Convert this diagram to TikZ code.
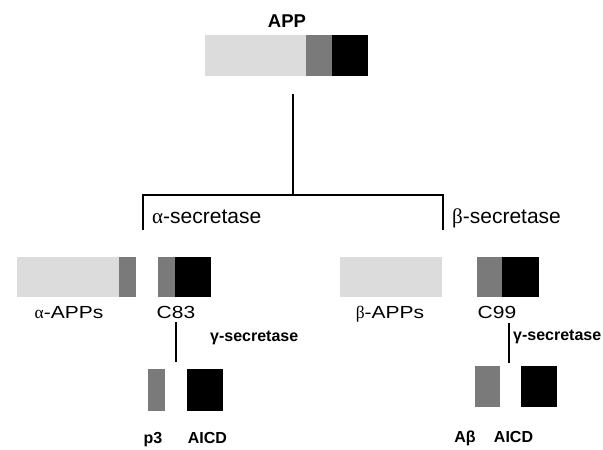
\documentclass[tikz,border=0pt]{standalone}
\usepackage{fontspec}
\setmainfont{Liberation Sans}
\newfontfamily\widefont[FakeStretch=1.2]{Liberation Sans}
\newfontfamily\greekfont{Liberation Serif}
\usepackage{tikz}
\usetikzlibrary{positioning}
\usepackage{xcolor}
\definecolor{lightseg}{HTML}{DCDCDC}
\definecolor{midseg}{HTML}{7A7A7A}

\tikzset{
    seg/.style={rectangle, inner sep=0pt, outer sep=0pt, minimum height=41pt},
    ecto/.style={seg, fill=lightseg},
    memb/.style={seg, fill=midseg},
    cyto/.style={seg, fill=black},
    wlabel/.style={inner sep=0pt, anchor=base, font=\widefont\fontsize{17.5}{17.5}\selectfont},
    blabel/.style={inner sep=0pt, anchor=base, font=\bfseries\fontsize{16}{16}\selectfont},
    enzyme/.style={inner sep=0pt, anchor=base west, font=\fontsize{21}{21}\selectfont},
    cut/.style={line width=1.8pt}
}

\begin{document}
\begin{tikzpicture}[x=1pt, y=-1pt]
        \useasboundingbox (0,0) rectangle (603,450);

        % Full length APP
        \node[ecto, minimum width=101pt] (app1) at (255.5,55.5) {};
        \node[memb, minimum width=26pt, right=0pt of app1] (app2) {};
        \node[cyto, minimum width=36pt, right=0pt of app2] (app3) {};
        \node[inner sep=0pt, anchor=base, font=\bfseries\fontsize{18.5}{18.5}\selectfont] (applbl) at (287,27) {APP};

        % Branching
        \coordinate (fork) at (293,195);
        \coordinate (forkL) at (143,195);
        \coordinate (forkR) at (443,195);
        \coordinate (endL) at (143,230);
        \coordinate (endR) at (443,230);
        \draw[cut, shorten <=18pt] (fork |- app1.south) -- (fork);
        \draw[cut] (endL) -- (forkL) -- (forkR) -- (endR);
        \node[enzyme] (alphasec) at (152,223) {{\greekfont α}-secretase};
        \node[enzyme] (betasec) at (452,223) {{\greekfont β}-secretase};

        % alpha cleavage products
        \node[ecto, minimum width=102pt, minimum height=40pt] (aapps1) at (68,277) {};
        \node[memb, minimum width=17pt, minimum height=40pt, right=0pt of aapps1] (aapps2) {};
        \node[memb, minimum width=17pt, minimum height=40pt] (c83a) at (166.5,277) {};
        \node[cyto, minimum width=36pt, minimum height=40pt, right=0pt of c83a] (c83b) {};
        \node[wlabel] (aappslbl) at (69,318.5) {{\greekfont α}-APPs};
        \node[wlabel] (c83lbl) at (176,318.5) {C83};

        % beta cleavage products
        \node[ecto, minimum width=102pt, minimum height=40pt] (bapps) at (391,277) {};
        \node[memb, minimum width=25pt, minimum height=40pt] (c99a) at (489.5,277) {};
        \node[cyto, minimum width=37pt, minimum height=40pt, right=0pt of c99a] (c99b) {};
        \node[wlabel] (bappslbl) at (390,318.5) {{\greekfont β}-APPs};
        \node[wlabel] (c99lbl) at (497,318.5) {C99};

        % gamma cleavage of C83
        \node[memb, minimum width=17pt, minimum height=42pt] (p3) at (156.5,390) {};
        \node[cyto, minimum width=36pt, minimum height=42pt] (aicdL) at (205,390) {};
        \draw[cut, shorten <=3.5pt, shorten >=7pt] (c83lbl.south) -- (c83lbl.south |- p3.north);
        \node[blabel, anchor=base west] (gammaL) at (210,341) {γ-secretase};
        \node[blabel] (p3lbl) at (153,443) {p3};
        \node[blabel] (aicdLlbl) at (207.5,443) {AICD};

        % gamma cleavage of C99
        \node[memb, minimum width=25pt] (abeta) at (487.5,386.5) {};
        \node[cyto, minimum width=36pt] (aicdR) at (539,386.5) {};
        \coordinate (gR) at (509,323);
        \draw[cut, shorten >=3pt] (gR) -- (gR |- abeta.north);
        \node[blabel, anchor=base west] (gammaR) at (513,340) {γ-secretase};
        \node[blabel] (abetalbl) at (465,442) {Aβ};
        \node[blabel] (aicdRlbl) at (513.5,442) {AICD};

    \end{tikzpicture}
\end{document}
